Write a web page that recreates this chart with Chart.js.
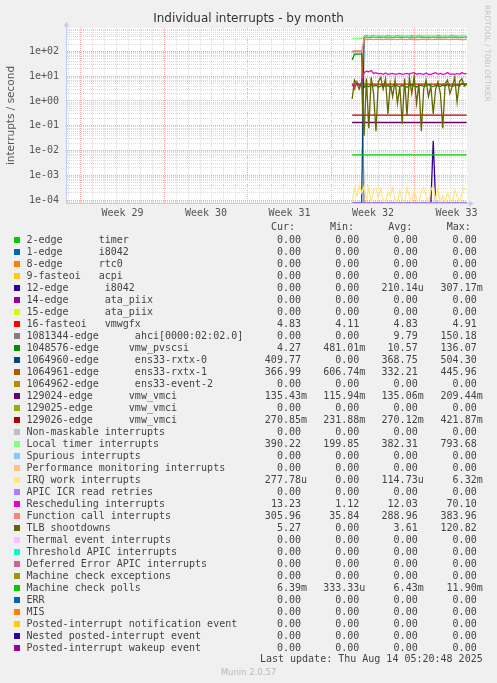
<!DOCTYPE html>
<html>
<head>
<meta charset="utf-8">
<script src="https://cdn.jsdelivr.net/npm/chart.js@4.4.1/dist/chart.umd.min.js"></script>
<style>
  body { margin: 0; background: #f0f0f0; width: 497px; height: 683px; overflow: hidden; position: relative;
         font-family: "DejaVu Sans Mono", monospace; font-size: 10px; color: #444; }
  #wrap { position: absolute; left: 0; top: 0; width: 497px; height: 222px; }
  .txt { position: absolute; height: 12px; line-height: 12px; white-space: pre; }
  .sw { position: absolute; width: 6px; height: 6px; }
</style>
</head>
<body>
<div id="wrap"><canvas id="chart" width="497" height="222"></canvas></div>
<div id="legend"></div>
<script>
// time axis is in days from the left edge of the graph
const xMax = 33.53;
const weekStarts = [1.15, 8.15, 15.15, 22.15, 29.15];
const weekLabels = ["Week 29", "Week 30", "Week 31", "Week 32", "Week 33"];
const yMin = 7.57e-5;
const yMax = 889;

// sample times (days) for the measured part of the month
const days = [23.9, 24.1, 24.3, 24.5, 24.7, 24.9, 25.1, 25.3, 25.5, 25.7,
              25.9, 26.1, 26.3, 26.5, 26.7, 26.9, 27.1, 27.3, 27.5, 27.7,
              27.9, 28.1, 28.3, 28.5, 28.7, 28.9, 29.1, 29.3, 29.5, 29.7,
              29.9, 30.1, 30.3, 30.5, 30.7, 30.9, 31.1, 31.3, 31.5, 31.7,
              31.9, 32.1, 32.3, 32.5, 32.7, 32.9, 33.1, 33.3, 33.5];
const flatDays = [23.9, 33.5];

const i8042Vals = [0, 0, 0, 0, 0, 0, 0, 0, 0, 0,
                   0, 0, 0, 0, 0, 0, 0, 0, 0, 0,
                   0, 0, 0, 0, 0, 0, 0, 0, 0, 0,
                   0, 0, 0, 0, 0.025, 0, 0, 0, 0, 0,
                   0, 0, 0, 0, 0, 0, 0, 0, 0];
const ahciVals = [95, 100, 98, 102, 100, 0, 0, 0, 0, 0,
                  0, 0, 0, 0, 0, 0, 0, 0, 0, 0,
                  0, 0, 0, 0, 0, 0, 0, 0, 0, 0,
                  0, 0, 0, 0, 0, 0, 0, 0, 0, 0,
                  0, 0, 0, 0, 0, 0, 0, 0, 0];
const pvscsiVals = [45, 78, 78, 78, 78, 3.5, 4.2, 3.8, 4.5, 4.0,
                    4.3, 3.6, 4.1, 4.4, 3.9, 4.2, 3.7, 4.0, 4.5, 4.1,
                    3.8, 4.3, 4.0, 3.6, 4.2, 4.5, 4.0, 3.7, 4.2, 4.4,
                    3.9, 4.1, 4.6, 4.0, 3.8, 4.3, 4.1, 3.9, 4.4, 4.0,
                    4.6, 4.2, 3.9, 4.3, 4.5, 4.0, 5.2, 4.9, 4.27];
const rxtx0Vals = [0, 0, 0, 0, 0, 408, 412, 405, 410, 415,
                   407, 409, 411, 404, 410, 413, 408, 406, 410, 412,
                   409, 405, 411, 408, 410, 414, 407, 409, 412, 406,
                   410, 408, 411, 409, 405, 410, 413, 408, 410, 407,
                   411, 409, 412, 406, 410, 408, 411, 409, 410];
const rxtx1Vals = [5, 3, 6, 4, 5, 372, 375, 370, 368, 374,
                   369, 371, 366, 370, 373, 368, 367, 371, 369, 372,
                   370, 366, 369, 373, 368, 371, 367, 370, 369, 372,
                   368, 371, 366, 370, 373, 369, 367, 372, 368, 370,
                   369, 371, 367, 370, 372, 368, 369, 371, 367];
const vmwgfxVals = [4.83, 4.83];
const vmci24Vals = [0.135, 0.135];
const vmci26Vals = [0.27, 0.27];
const localTimerVals = [330, 336, 334, 338, 335, 395, 392, 398, 390, 394,
                        396, 391, 393, 397, 390, 395, 392, 394, 389, 396,
                        393, 390, 395, 392, 397, 391, 394, 390, 396, 393,
                        392, 395, 390, 394, 391, 397, 393, 390, 395, 392,
                        394, 391, 396, 393, 390, 395, 392, 394, 390];
const irqWorkVals = [0, 3e-4, 1.5e-4, 4e-4, 2e-4, 3.5e-4, 1e-4, 3e-4, 0, 2.5e-4,
                     3e-4, 1.2e-4, 2.8e-4, 1e-4, 0, 2e-4, 1.5e-4, 3e-4, 1e-4, 0,
                     2.5e-4, 1e-4, 0, 3e-4, 1.5e-4, 0, 2.5e-4, 1e-4, 0, 2e-4,
                     3e-4, 1.5e-4, 0, 2.5e-4, 4e-4, 1e-4, 3e-4, 0, 1.5e-4, 0,
                     2e-4, 1e-4, 0, 2.5e-4, 1.5e-4, 0, 2e-4, 3e-4, 2.8e-4];
const apicVals = [0, 0];
const reschedVals = [4.5, 4.0, 5.0, 4.6, 5.2, 14, 16, 15, 17, 13,
                     14, 12.5, 13, 12, 13.5, 12, 12.5, 13, 12, 12.5,
                     13, 12, 12.5, 13, 12, 13.5, 14, 12, 13, 12.5,
                     12, 13.5, 12, 12, 13, 14, 12, 13, 12, 12.5,
                     14, 12, 12.5, 12, 13, 12, 14, 12.5, 13.2];
const funcCallVals = [102, 108, 106, 104, 105, 312, 305, 318, 308, 300,
                      315, 306, 310, 302, 316, 309, 304, 312, 307, 299,
                      313, 306, 310, 303, 317, 308, 305, 311, 300, 314,
                      307, 303, 312, 309, 301, 315, 306, 310, 304, 313,
                      308, 302, 311, 306, 314, 305, 309, 303, 306];
const tlbVals = [1.2, 7, 5, 3, 6, 0.04, 8, 0.08, 9, 2,
                 0.06, 6, 9, 3, 8, 0.3, 5, 1.5, 7, 0.8,
                 4, 0.12, 8, 0.25, 9, 2, 10, 0.8, 5, 0.06,
                 3, 7, 1.5, 4, 0.3, 3, 6, 2, 0.08, 5,
                 7, 2, 4, 9, 0.9, 6, 8, 4, 5.27];
const mcPollVals = [0.0066, 0.0066];

// legend table
const legendNames = [
  "2-edge      timer", "1-edge      i8042", "8-edge      rtc0", "9-fasteoi   acpi",
  "12-edge      i8042", "14-edge      ata_piix", "15-edge      ata_piix", "16-fasteoi   vmwgfx",
  "1081344-edge      ahci[0000:02:02.0]", "1048576-edge     vmw_pvscsi",
  "1064960-edge      ens33-rxtx-0", "1064961-edge      ens33-rxtx-1", "1064962-edge      ens33-event-2",
  "129024-edge      vmw_vmci", "129025-edge      vmw_vmci", "129026-edge      vmw_vmci",
  "Non-maskable interrupts", "Local timer interrupts", "Spurious interrupts",
  "Performance monitoring interrupts", "IRQ work interrupts", "APIC ICR read retries",
  "Rescheduling interrupts", "Function call interrupts", "TLB shootdowns",
  "Thermal event interrupts", "Threshold APIC interrupts", "Deferred Error APIC interrupts",
  "Machine check exceptions", "Machine check polls", "ERR", "MIS",
  "Posted-interrupt notification event", "Nested posted-interrupt event", "Posted-interrupt wakeup event"
];
const legendColors = [
  "#00cc00", "#0066b3", "#ff8000", "#ffcc00", "#330099", "#990099", "#ccff00", "#ff0000",
  "#808080", "#008f00", "#00487d", "#b35a00", "#b38f00", "#6b006b", "#8fb300", "#b30000",
  "#bebebe", "#80ff80", "#80c9ff", "#ffc080", "#ffe680", "#aa80ff", "#ee00cc", "#ff8080",
  "#666600", "#ffbfff", "#00ffcc", "#cc6699", "#999900", "#00cc00", "#0066b3", "#ff8000",
  "#ffcc00", "#330099", "#990099"
];
const curVals = ["0.00", "0.00", "0.00", "0.00", "0.00", "0.00", "0.00", "4.83", "0.00", "4.27",
  "409.77", "366.99", "0.00", "135.43m", "0.00", "270.85m", "0.00", "390.22", "0.00", "0.00",
  "277.78u", "0.00", "13.23", "305.96", "5.27", "0.00", "0.00", "0.00", "0.00", "6.39m",
  "0.00", "0.00", "0.00", "0.00", "0.00"];
const minVals = ["0.00", "0.00", "0.00", "0.00", "0.00", "0.00", "0.00", "4.11", "0.00", "481.01m",
  "0.00", "606.74m", "0.00", "115.94m", "0.00", "231.88m", "0.00", "199.85", "0.00", "0.00",
  "0.00", "0.00", "1.12", "35.84", "0.00", "0.00", "0.00", "0.00", "0.00", "333.33u",
  "0.00", "0.00", "0.00", "0.00", "0.00"];
const avgVals = ["0.00", "0.00", "0.00", "0.00", "210.14u", "0.00", "0.00", "4.83", "9.79", "10.57",
  "368.75", "332.21", "0.00", "135.06m", "0.00", "270.12m", "0.00", "382.31", "0.00", "0.00",
  "114.73u", "0.00", "12.03", "288.96", "3.61", "0.00", "0.00", "0.00", "0.00", "6.43m",
  "0.00", "0.00", "0.00", "0.00", "0.00"];
const maxVals = ["0.00", "0.00", "0.00", "0.00", "307.17m", "0.00", "0.00", "4.91", "150.18", "136.07",
  "504.30", "445.96", "0.00", "209.44m", "0.00", "421.87m", "0.00", "793.68", "0.00", "0.00",
  "6.32m", "0.00", "70.10", "383.96", "120.82", "0.00", "0.00", "0.00", "0.00", "11.90m",
  "0.00", "0.00", "0.00", "0.00", "0.00"];

const minorGrid = "#dadada";
const majorGrid = "#eeaaaa";

// build a line dataset; zero is drawn on the floor of the log axis like rrdtool does
function series(idx, xs, ys) {
  return {
    label: legendNames[idx],
    borderColor: legendColors[idx],
    order: -idx,
    data: xs.map((x, i) => ({ x: x, y: ys[i] > 0 ? ys[i] : yMin })),
    borderWidth: 1.3,
    pointRadius: 0,
    tension: 0,
    fill: false,
    xAxisID: "x",
    yAxisID: "y"
  };
}

const datasets = [
  series(4, days, i8042Vals),
  series(7, flatDays, vmwgfxVals),
  series(8, days, ahciVals),
  series(9, days, pvscsiVals),
  series(10, days, rxtx0Vals),
  series(11, days, rxtx1Vals),
  series(13, flatDays, vmci24Vals),
  series(15, flatDays, vmci26Vals),
  series(17, days, localTimerVals),
  series(20, days, irqWorkVals),
  series(21, flatDays, apicVals),
  series(22, days, reschedVals),
  series(23, days, funcCallVals),
  series(24, days, tlbVals),
  series(29, flatDays, mcPollVals)
];

function isDecade(v) {
  const l = Math.log10(v);
  return Math.abs(l - Math.round(l)) < 1e-6;
}

const decor = {
  id: "decor",
  beforeDraw(chart) {
    const { ctx, chartArea: a } = chart;
    ctx.save();
    ctx.fillStyle = "#ffffff";
    ctx.fillRect(a.left, a.top, a.right - a.left, a.bottom - a.top);
    ctx.restore();
  },
  afterDraw(chart) {
    const ctx = chart.ctx;
    ctx.save();
    ctx.fillStyle = "#333";
    ctx.font = '12px "DejaVu Sans"';
    ctx.textAlign = "center";
    ctx.textBaseline = "middle";
    ctx.fillText("Individual interrupts - by month", 248.5, 19);

    // rrdtool credit, vertical on the right
    ctx.save();
    ctx.translate(487, 5);
    ctx.rotate(Math.PI / 2);
    ctx.fillStyle = "#c4c4c4";
    ctx.font = '7.5px "DejaVu Sans"';
    ctx.textAlign = "left";
    ctx.fillText("RRDTOOL / TOBI OETIKER", 0, 0);
    ctx.restore();

    // axis lines with arrows
    ctx.strokeStyle = "#c4ccf6";
    ctx.fillStyle = "#c4ccf6";
    ctx.lineWidth = 1;
    ctx.beginPath();
    ctx.moveTo(66.5, 204);
    ctx.lineTo(66.5, 25);
    ctx.moveTo(66, 203.5);
    ctx.lineTo(470, 203.5);
    ctx.stroke();
    ctx.beginPath();
    ctx.moveTo(63.5, 26.5); ctx.lineTo(69.5, 26.5); ctx.lineTo(66.5, 21.5); ctx.closePath();
    ctx.moveTo(469, 200.5); ctx.lineTo(469, 206.5); ctx.lineTo(474, 203.5); ctx.closePath();
    ctx.fill();
    ctx.restore();
  }
};

Chart.defaults.font.family = "DejaVu Sans Mono";

new Chart(document.querySelector("#chart"), {
  type: "line",
  data: { datasets: datasets },
  options: {
    responsive: false,
    animation: false,
    devicePixelRatio: 1,
    layout: { padding: { top: 28, right: 30, left: 0, bottom: 0 } },
    plugins: { legend: { display: false }, tooltip: { enabled: false } },
    scales: {
      x: {
        type: "linear", min: 0, max: xMax, position: "bottom",
        afterBuildTicks: s => {
          const t = [];
          for (let d = weekStarts[0] - 1; d < xMax; d += 1) t.push({ value: d });
          s.ticks = t;
        },
        afterFit: s => { s.height = 0; },
        ticks: { display: false, autoSkip: false },
        grid: {
          drawTicks: false,
          color: c => weekStarts.some(w => Math.abs(w - c.tick.value) < 1e-6) ? majorGrid : minorGrid
        },
        border: { display: false, dash: [1, 1] }
      },
      weeks: {
        type: "linear", min: 0, max: xMax, position: "bottom",
        afterBuildTicks: s => { s.ticks = weekStarts.map(w => ({ value: w + 3.5 })); },
        afterFit: s => { s.height = 19; },
        grid: { display: false, drawTicks: false },
        border: { display: false },
        ticks: {
          autoSkip: false, maxRotation: 0, padding: 4, color: "#555",
          font: { family: "DejaVu Sans Mono", size: 10 },
          callback: (v, i) => weekLabels[i]
        }
      },
      y: {
        type: "logarithmic", min: yMin, max: yMax,
        afterBuildTicks: s => {
          const t = [];
          for (let e = -5; e <= 2; e++) {
            for (let k = 1; k <= 9; k++) {
              const v = k * Math.pow(10, e);
              if (v >= yMin && v <= yMax) t.push({ value: v });
            }
          }
          s.ticks = t;
        },
        afterFit: s => { s.width = 67; },
        grid: {
          drawTicks: false,
          color: c => isDecade(c.tick.value) ? majorGrid : minorGrid
        },
        border: { display: false, dash: [1, 1] },
        ticks: {
          autoSkip: false, padding: 8, color: "#555",
          font: { family: "DejaVu Sans Mono", size: 10 },
          callback: v => {
            if (!isDecade(v)) return "";
            const e = Math.round(Math.log10(v));
            return "1e" + (e < 0 ? "-" : "+") + String(Math.abs(e)).padStart(2, "0");
          }
        },
        title: {
          display: true, text: "interrupts / second", color: "#555",
          font: { family: "DejaVu Sans", size: 10.5 },
          padding: { top: 5, bottom: 0 }
        }
      }
    }
  },
  plugins: [decor]
});

// legend table below the graph
const legend = document.querySelector("#legend");
function addText(text, left, top, right) {
  const el = document.createElement("div");
  el.className = "txt";
  el.textContent = text;
  el.style.top = top + "px";
  if (right !== undefined) {
    el.style.right = (497 - right) + "px";
    el.style.textAlign = "right";
  } else {
    el.style.left = left + "px";
  }
  legend.appendChild(el);
}
function fmt(s) { return /[a-z]$/.test(s) ? s : s + " "; }

addText("Cur:", 271, 221.3);
addText("Min:", 330, 221.3);
addText("Avg:", 388.3, 221.3);
addText("Max:", 446.7, 221.3);

const colRight = [307, 365.3, 423.7, 482.7];
legendNames.forEach((name, i) => {
  const top = 233.5 + 12 * i;
  const sw = document.createElement("div");
  sw.className = "sw";
  sw.style.left = "14px";
  sw.style.top = (top + 3) + "px";
  sw.style.background = legendColors[i];
  legend.appendChild(sw);
  addText(name, 26.5, top);
  [curVals, minVals, avgVals, maxVals].forEach((col, j) => addText(fmt(col[i]), 0, top, colRight[j]));
});

addText("Last update: Thu Aug 14 05:20:48 2025", 0, 653.3, 482.7);

const munin = document.createElement("div");
munin.className = "txt";
munin.textContent = "Munin 2.0.57";
munin.style.cssText = 'left:0;width:497px;text-align:center;top:666px;color:#bbb;font-family:"DejaVu Sans";font-size:8.5px;';
legend.appendChild(munin);
</script>
</body>
</html>
